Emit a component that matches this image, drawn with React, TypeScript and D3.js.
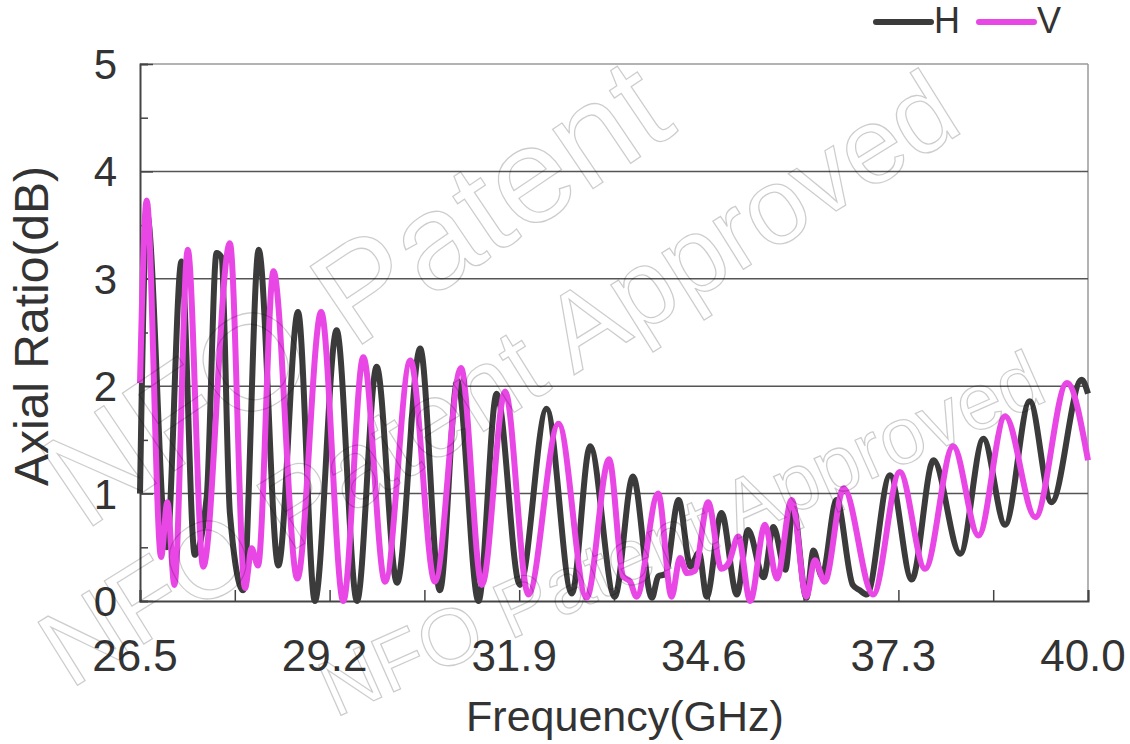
import React, { useEffect, useRef } from 'react';
import * as d3 from 'd3';

// H polarisation: frequency (GHz) / axial ratio (dB)
const freqH = [26.5, 26.6, 26.88, 27.09, 27.28, 27.45, 27.59, 27.66, 27.78, 27.97, 28.19, 28.47, 28.75, 28.99, 29.3, 29.59, 29.87, 30.16, 30.49, 30.77, 31.02, 31.32, 31.58, 31.91, 32.29, 32.65, 32.91, 33.26, 33.52, 33.79, 33.88, 33.98, 34.17, 34.34, 34.46, 34.57, 34.78, 35.0, 35.16, 35.38, 35.52, 35.69, 35.8, 35.99, 36.09, 36.21, 36.42, 36.65, 36.75, 36.85, 37.18, 37.49, 37.8, 38.18, 38.51, 38.82, 39.17, 39.48, 39.91, 40.0];
const arH = [1.0, 3.6, 0.5, 3.16, 0.43, 0.97, 3.24, 3.2, 0.82, 0.1, 3.27, 0.33, 2.69, 0.0, 2.52, 0.0, 2.18, 0.17, 2.35, 0.1, 2.05, 0.0, 1.93, 0.15, 1.79, 0.07, 1.44, 0.04, 1.16, 0.03, 0.23, 0.25, 0.94, 0.32, 0.45, 0.04, 0.82, 0.06, 0.66, 0.22, 0.69, 0.29, 0.88, 0.03, 0.47, 0.23, 0.94, 0.15, 0.1, 0.06, 1.17, 0.2, 1.31, 0.44, 1.51, 0.71, 1.86, 0.92, 2.06, 1.93];

// V polarisation
const freqV = [26.5, 26.595, 26.8, 26.89, 26.99, 27.18, 27.4, 27.78, 27.995, 28.09, 28.18, 28.4, 28.74, 29.08, 29.395, 29.68, 29.99, 30.35, 30.7, 31.07, 31.37, 31.7, 32.03, 32.46, 32.86, 33.18, 33.38, 33.48, 33.57, 33.88, 34.07, 34.19, 34.29, 34.4, 34.59, 34.78, 34.88, 35.02, 35.19, 35.4, 35.57, 35.78, 35.99, 36.11, 36.25, 36.52, 36.94, 37.32, 37.68, 38.08, 38.44, 38.82, 39.25, 39.7, 40.0];
const arV = [2.03, 3.73, 0.41, 0.92, 0.15, 3.27, 0.32, 3.33, 0.12, 0.49, 0.33, 3.07, 0.21, 2.69, 0.0, 2.27, 0.18, 2.24, 0.18, 2.17, 0.15, 1.95, 0.06, 1.65, 0.03, 1.32, 0.23, 0.18, 0.04, 1.0, 0.04, 0.4, 0.26, 0.28, 0.92, 0.3, 0.35, 0.6, 0.0, 0.71, 0.21, 0.94, 0.04, 0.38, 0.18, 1.05, 0.06, 1.2, 0.3, 1.44, 0.61, 1.72, 0.78, 2.03, 1.31];

const xTickLabels = [26.5, 29.2, 31.9, 34.6, 37.3, 40.0];
const yTickLabels = [0, 1, 2, 3, 4, 5];

const seriesNames = ['H', 'V'];
const seriesColors = ['#3b3b3b', '#e847e6'];

const WIDTH = 1130;
const HEIGHT = 744;
const MARGIN = { top: 64, right: 42, bottom: 143, left: 140 };
const FONT = 'Liberation Sans, Arial, sans-serif';

const App = () => {
  const ref = useRef<SVGSVGElement>(null);

  useEffect(() => {
    const svg = d3.select(ref.current);
    svg.selectAll('*').remove();

    const innerW = WIDTH - MARGIN.left - MARGIN.right;
    const innerH = HEIGHT - MARGIN.top - MARGIN.bottom;

    const x = d3.scaleLinear().domain([26.5, 40]).range([MARGIN.left, MARGIN.left + innerW]);
    const y = d3.scaleLinear().domain([0, 5]).range([MARGIN.top + innerH, MARGIN.top]);

    const x0 = MARGIN.left, x1 = MARGIN.left + innerW;
    const y0 = MARGIN.top + innerH, y1 = MARGIN.top;

    // frame: top and right edges lighter
    svg.append('line').attr('x1', x0).attr('x2', x1).attr('y1', y1).attr('y2', y1)
      .attr('stroke', '#9a9a9a').attr('stroke-width', 1.5);
    svg.append('line').attr('x1', x1).attr('x2', x1).attr('y1', y1).attr('y2', y0)
      .attr('stroke', '#9a9a9a').attr('stroke-width', 1.5);

    // horizontal grid lines
    svg.append('g').selectAll('line')
      .data([1, 2, 3, 4])
      .enter().append('line')
      .attr('x1', x0).attr('x2', x1)
      .attr('y1', d => y(d)).attr('y2', d => y(d))
      .attr('stroke', '#555').attr('stroke-width', 1.5);

    // y-axis with minor ticks inside
    const yAxis = d3.axisRight(y).tickValues(d3.range(0, 5.01, 0.5)).tickSize(8).tickFormat(() => '');
    const gy = svg.append('g').attr('transform', `translate(${x0},0)`).call(yAxis);
    gy.select('.domain').attr('stroke', '#444').attr('stroke-width', 2);
    gy.selectAll('.tick line').attr('stroke', '#444').attr('stroke-width', 1.5)
      .attr('x2', (d: any) => (Number.isInteger(d) ? 13 : 8));

    // x-axis with ticks pointing up
    const xAxis = d3.axisTop(x).tickValues(d3.range(0, 11).map(i => 26.5 + i * 1.35)).tickSize(11).tickFormat(() => '');
    const gx = svg.append('g').attr('transform', `translate(0,${y0})`).call(xAxis);
    gx.select('.domain').attr('stroke', '#444').attr('stroke-width', 2);
    gx.selectAll('.tick line').attr('stroke', '#444').attr('stroke-width', 1.5);

    // tick labels
    svg.append('g').selectAll('text')
      .data(xTickLabels)
      .enter().append('text')
      .attr('x', d => x(d) - 5)
      .attr('y', 671)
      .attr('text-anchor', 'middle')
      .attr('font-family', FONT)
      .attr('font-size', 44)
      .attr('fill', '#333')
      .text(d => d3.format('.1f')(d));

    svg.append('g').selectAll('text')
      .data(yTickLabels)
      .enter().append('text')
      .attr('x', 117)
      .attr('y', d => y(d) + 15)
      .attr('text-anchor', 'end')
      .attr('font-family', FONT)
      .attr('font-size', 42)
      .attr('fill', '#333')
      .text(d => d);

    // axis titles
    svg.append('text')
      .attr('x', 625).attr('y', 731)
      .attr('text-anchor', 'middle')
      .attr('font-family', FONT).attr('font-size', 43).attr('fill', '#333')
      .text('Frequency(GHz)');

    svg.append('text')
      .attr('transform', 'translate(48,326) rotate(-90)')
      .attr('text-anchor', 'middle')
      .attr('font-family', FONT).attr('font-size', 48).attr('fill', '#333')
      .text('Axial Ratio(dB)');

    // curves
    const line = d3.line<[number, number]>()
      .x(d => x(d[0]))
      .y(d => y(d[1]))
      .curve(d3.curveMonotoneX);

    const dataH = freqH.map((f, i) => [f, arH[i]] as [number, number]);
    const dataV = freqV.map((f, i) => [f, arV[i]] as [number, number]);

    [dataH, dataV].forEach((data, i) => {
      svg.append('path')
        .datum(data)
        .attr('fill', 'none')
        .attr('stroke', seriesColors[i])
        .attr('stroke-width', 6)
        .attr('stroke-linejoin', 'round')
        .attr('d', line);
    });

    // legend
    const legend = svg.append('g');
    const legendX = [876, 979];
    seriesNames.forEach((name, i) => {
      legend.append('line')
        .attr('x1', legendX[i]).attr('x2', legendX[i] + 55)
        .attr('y1', 22).attr('y2', 22)
        .attr('stroke', seriesColors[i]).attr('stroke-width', 6)
        .attr('stroke-linecap', 'round');
      legend.append('text')
        .attr('x', legendX[i] + 58).attr('y', 33)
        .attr('font-family', FONT).attr('font-size', 36).attr('fill', '#333')
        .text(name);
    });

    // watermark, kept inside the picture
    const wm = svg.append('g')
      .attr('fill', 'none')
      .attr('stroke', 'rgba(0,0,0,0.2)')
      .attr('stroke-width', 1.3)
      .attr('font-family', FONT);
    wm.append('text')
      .attr('transform', 'translate(84,532) rotate(-34)')
      .attr('font-size', 136)
      .text('NFO Patent');
    wm.append('text')
      .attr('transform', 'translate(70,690) rotate(-32)')
      .attr('font-size', 108)
      .text('NFO Patent Approved');
    wm.append('text')
      .attr('transform', 'translate(335,718) rotate(-24)')
      .attr('font-size', 80)
      .text('NFO Patent Approved');
  }, []);

  return (
    <svg ref={ref} width={WIDTH} height={HEIGHT}
      style={{ position: 'absolute', left: 0, top: 0, background: '#fff' }} />
  );
};

export default App;
